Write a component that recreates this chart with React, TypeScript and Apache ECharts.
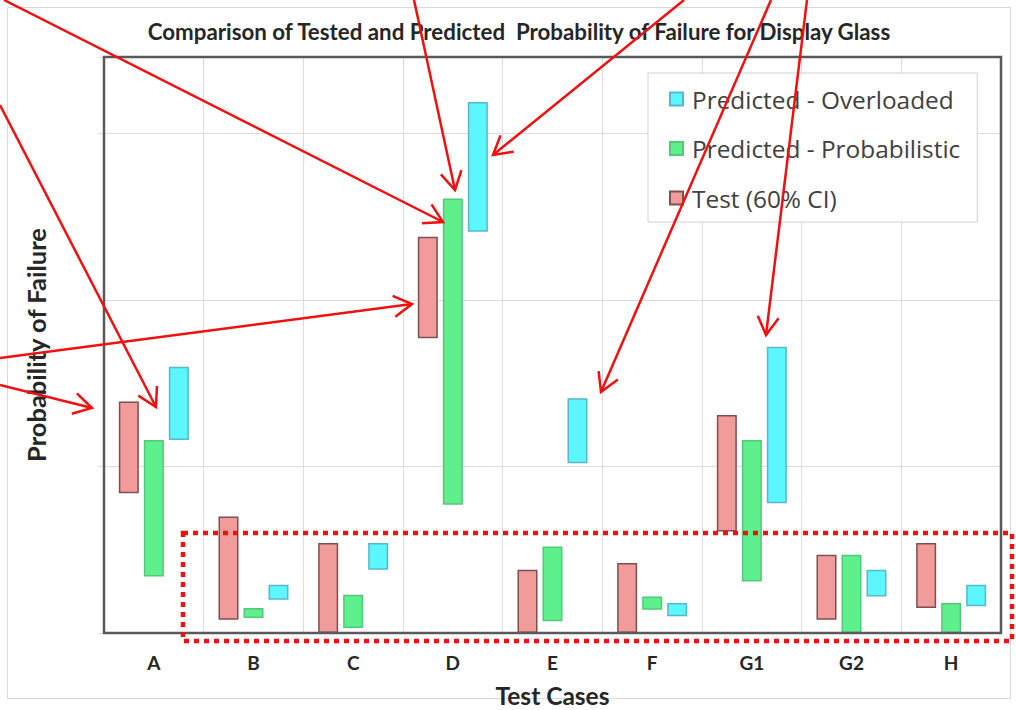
import React, { useEffect, useRef } from "react";
import * as echarts from "echarts";

// Test cases along the x axis
const categories = ["A", "B", "C", "D", "E", "F", "G1", "G2", "H"];

// Test (60% CI): lower and upper bounds of the probability of failure
const testLow = [0.084, 0.008, 0.0, 0.177, 0.0, 0.0, 0.061, 0.008, 0.015];
const testHigh = [0.139, 0.07, 0.054, 0.238, 0.038, 0.042, 0.131, 0.047, 0.054];

// Predicted - Probabilistic: lower and upper bounds
const probLow = [0.034, 0.009, 0.003, 0.077, 0.007, 0.014, 0.031, 0.0, 0.0];
const probHigh = [0.116, 0.015, 0.023, 0.261, 0.052, 0.022, 0.116, 0.047, 0.018];

// Predicted - Overloaded: lower and upper bounds
const overLow = [0.116, 0.02, 0.038, 0.241, 0.102, 0.01, 0.078, 0.022, 0.016];
const overHigh = [0.16, 0.029, 0.054, 0.319, 0.141, 0.018, 0.172, 0.038, 0.029];

const seriesNames = ["Test (60% CI)", "Predicted - Probabilistic", "Predicted - Overloaded"];
const legendOrder = ["Predicted - Overloaded", "Predicted - Probabilistic", "Test (60% CI)"];

// Red call-out arrows drawn over the chart: [x0, y0, tipX, tipY]
const arrows: number[][] = [
  [4, 0, 443, 222],
  [0, 105, 156, 407],
  [0, 358, 412, 304],
  [0, 385, 92, 408],
  [414, 0, 455, 190],
  [684, 0, 493, 155],
  [771, 0, 601, 392],
  [807, 0, 766, 335],
];

const RED = "#f01010";

function arrowGraphics() {
  const out: any[] = [];
  arrows.forEach(([x0, y0, x1, y1]) => {
    out.push({
      type: "line",
      shape: { x1: x0, y1: y0, x2: x1, y2: y1 },
      style: { stroke: RED, lineWidth: 2.5 },
      z: 100,
    });
    const ang = Math.atan2(y1 - y0, x1 - x0);
    const len = 21;
    const spread = (30 * Math.PI) / 180;
    const a1 = ang + Math.PI - spread;
    const a2 = ang + Math.PI + spread;
    out.push({
      type: "polyline",
      shape: {
        points: [
          [x1 + len * Math.cos(a1), y1 + len * Math.sin(a1)],
          [x1, y1],
          [x1 + len * Math.cos(a2), y1 + len * Math.sin(a2)],
        ],
      },
      style: { stroke: RED, lineWidth: 2.5, fill: null },
      z: 100,
    });
  });
  return out;
}

function rangeSeries(
  name: string,
  stack: string,
  low: number[],
  high: number[],
  fill: string,
  border: string
) {
  return [
    {
      name: "base-" + stack,
      type: "bar",
      stack,
      silent: true,
      barWidth: 20,
      barGap: "25%",
      itemStyle: { color: "transparent" },
      data: low,
    },
    {
      name,
      type: "bar",
      stack,
      barWidth: 20,
      barGap: "25%",
      itemStyle: { color: fill, borderColor: border, borderWidth: 1.5 },
      data: high.map((h, i) => +(h - low[i]).toFixed(3)),
    },
  ];
}

export default function App() {
  const ref = useRef<HTMLDivElement>(null);

  useEffect(() => {
    if (!ref.current) return;
    const chart = echarts.init(ref.current, undefined, { renderer: "svg" });
    chart.setOption({
      animation: false,
      backgroundColor: "#ffffff",
      title: {
        text: "Comparison of Tested and Predicted  Probability of Failure for Display Glass",
        left: 514,
        top: 15,
        textAlign: "center",
        textStyle: { fontFamily: "Lato", fontWeight: "bold", fontSize: 22.3, color: "#262626" },
      },
      legend: {
        data: legendOrder,
        orient: "vertical",
        left: 648,
        top: 73,
        padding: [13, 17, 11, 21],
        itemGap: 23.5,
        itemWidth: 13,
        itemHeight: 13,
        icon: "rect",
        backgroundColor: "#ffffff",
        borderColor: "#d0d0d0",
        borderWidth: 1,
        borderRadius: 0,
        textStyle: {
          fontFamily: "Open Sans",
          fontSize: 24.4,
          lineHeight: 26,
          color: "#404040",
          padding: [0, 0, 0, 4],
        },
      },
      grid: {
        left: 104,
        top: 57,
        width: 897,
        height: 576,
        show: false,
        outerBoundsMode: "none",
        containLabel: false,
      },
      xAxis: {
        type: "category",
        data: categories,
        name: "Test Cases",
        nameLocation: "middle",
        nameGap: 50,
        nameTextStyle: { fontFamily: "Lato", fontWeight: "bold", fontSize: 24.5, color: "#262626" },
        axisLine: { show: false },
        axisTick: { show: false },
        splitLine: { show: true, interval: 0, lineStyle: { color: "#dcdcdc", width: 1 } },
        axisLabel: {
          margin: 20,
          fontFamily: "Lato",
          fontWeight: "bold",
          fontSize: 19,
          color: "#262626",
        },
      },
      yAxis: {
        type: "value",
        min: 0,
        max: 0.346,
        interval: 0.1,
        name: "Probability of Failure",
        nameLocation: "middle",
        nameGap: 55,
        nameTextStyle: { fontFamily: "Lato", fontWeight: "bold", fontSize: 25.5, color: "#262626" },
        axisLine: { show: false },
        axisTick: { show: true, length: 6, lineStyle: { color: "#dcdcdc" } },
        axisLabel: { show: false },
        splitLine: { show: true, lineStyle: { color: "#dcdcdc", width: 1 } },
      },
      series: [
        ...rangeSeries(seriesNames[0], "test", testLow, testHigh, "#f29b9b", "#7f4f4f"),
        ...rangeSeries(seriesNames[1], "prob", probLow, probHigh, "#5ef08c", "#52c97a"),
        ...rangeSeries(seriesNames[2], "over", overLow, overHigh, "#5cf6ff", "#55b9c9"),
      ],
      graphic: [
        {
          type: "rect",
          shape: { x: 7.5, y: 7.5, width: 1003, height: 691 },
          style: { fill: null, stroke: "#d9d9d9", lineWidth: 1 },
          silent: true,
          z: -1,
        },
        {
          // plot-area frame
          type: "rect",
          shape: { x: 104, y: 57, width: 897, height: 576 },
          style: { fill: null, stroke: "#595959", lineWidth: 2.5 },
          silent: true,
          z: 50,
        },
        {
          type: "rect",
          shape: { x: 183, y: 533, width: 829, height: 108 },
          style: { fill: null, stroke: RED, lineWidth: 4.5, lineDash: [5, 5] },
          silent: true,
          z: 100,
        },
        ...arrowGraphics(),
      ],
    });
    return () => chart.dispose();
  }, []);

  return (
    <div
      ref={ref}
      style={{ position: "fixed", left: 0, top: 0, width: 1016, height: 710 }}
    />
  );
}
